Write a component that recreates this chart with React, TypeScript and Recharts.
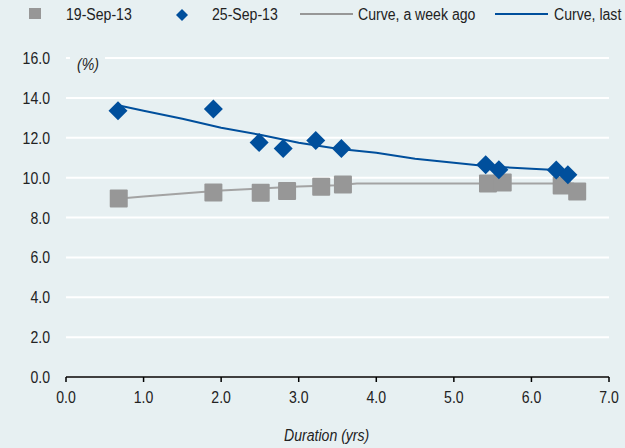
import React from "react";
import {ComposedChart, Scatter, Line, XAxis, YAxis, CartesianGrid} from "recharts";

const squareX = [0.68, 1.9, 2.51, 2.85, 3.29, 3.57, 5.44, 5.63, 6.39, 6.59];
const squareY = [8.95, 9.25, 9.24, 9.33, 9.54, 9.65, 9.7, 9.75, 9.6, 9.3];

const diamondX = [0.67, 1.9, 2.49, 2.8, 3.22, 3.55, 5.41, 5.58, 6.32, 6.47];
const diamondY = [13.36, 13.44, 11.76, 11.46, 11.86, 11.46, 10.65, 10.4, 10.38, 10.15];

const curveX = [0.7, 1.0, 1.5, 2.0, 2.5, 3.0, 3.5, 3.75, 4.0, 4.5, 5.0, 5.5, 6.0, 6.25, 6.55];
const weekAgoY = [8.95, 9.05, 9.2, 9.35, 9.45, 9.55, 9.62, 9.7, 9.7, 9.7, 9.7, 9.7, 9.7, 9.7, 9.7];
const lastWeekY = [13.6, 13.35, 12.95, 12.5, 12.15, 11.75, 11.45, 11.35, 11.25, 10.95, 10.75, 10.55, 10.45, 10.4, 10.15];

const xTicks = [0, 1, 2, 3, 4, 5, 6, 7];
const yTicks = [0, 2, 4, 6, 8, 10, 12, 14, 16];

const BG = "#e7f0f2";
const BLUE = "#004f9c";
const GREY = "#979797";
const INK = "#222";
const FONT = "'Liberation Sans', Arial, sans-serif";
const NARROW = 0.88;

const squares = squareX.map((x, i) => ({x, y: squareY[i]}));
const diamonds = diamondX.map((x, i) => ({x, y: diamondY[i]}));
const weekAgo = curveX.map((x, i) => ({x, y: weekAgoY[i]}));
const lastWeek = curveX.map((x, i) => ({x, y: lastWeekY[i]}));

const SquareShape = (props: any) => {
	const {cx, cy} = props;
	return <rect x={cx - 9} y={cy - 9} width={18} height={18} rx={1} fill={GREY}/>;
};

const DiamondShape = (props: any) => {
	const {cx, cy} = props;
	const r = 9.5;
	return <polygon points={`${cx},${cy - r} ${cx + r},${cy} ${cx},${cy + r} ${cx - r},${cy}`} fill={BLUE}/>;
};

// condensed look: Liberation Sans squeezed horizontally
const XTick = (props: any) => {
	const {x, y, payload} = props;
	return <text transform={`translate(${x},${y}) scale(${NARROW},1)`} x={0} y={0} dy={21} textAnchor="middle"
				 fill={INK} fontSize={16} fontFamily={FONT}>{payload.value.toFixed(1)}</text>;
};

const YTick = (props: any) => {
	const {x, y, payload} = props;
	return <text transform={`translate(${x},${y}) scale(${NARROW},1)`} x={0} y={0} dy={6} textAnchor="end"
				 fill={INK} fontSize={16} fontFamily={FONT}>{payload.value.toFixed(1)}</text>;
};

const narrowText = (left: number, top: number, label: string, italic = false) =>
	<div style={{
		position: "absolute", left, top, fontFamily: FONT, fontSize: 16, color: INK, whiteSpace: "nowrap",
		fontStyle: italic ? "italic" : "normal", transform: `scaleX(${NARROW})`, transformOrigin: "left top"
	}}>{label}</div>;

export default function App() {
	return <div style={{position: "fixed", left: 0, top: 0, width: 625, height: 448, background: BG, overflow: "hidden"}}>
		<ComposedChart width={625} height={448} margin={{top: 58, right: 16, left: 0, bottom: 41}}>
			<CartesianGrid horizontal={true} vertical={false} stroke="#ffffff" strokeWidth={2}/>
			<XAxis type="number" dataKey="x" domain={[0, 7]} ticks={xTicks} height={30}
				   stroke="#000" strokeWidth={1.5} tickSize={5} tickMargin={0} tick={<XTick/>}/>
			<YAxis type="number" dataKey="y" domain={[0, 16]} ticks={yTicks}
				   width={66} axisLine={false} tickLine={false} tickSize={0} tickMargin={16} tick={<YTick/>}/>
			<Line data={weekAgo} dataKey="y" type="linear" stroke="#a3a3a3" strokeWidth={2} dot={false} isAnimationActive={false}/>
			<Line data={lastWeek} dataKey="y" type="linear" stroke={BLUE} strokeWidth={2} dot={false} isAnimationActive={false}/>
			<Scatter data={squares} dataKey="y" shape={SquareShape} isAnimationActive={false}/>
			<Scatter data={diamonds} dataKey="y" shape={DiamondShape} isAnimationActive={false}/>
		</ComposedChart>

		{/* legend */}
		<div style={{position: "absolute", left: 29, top: 8, width: 12, height: 11, background: GREY}}/>
		{narrowText(66, 6, "19-Sep-13")}
		<svg style={{position: "absolute", left: 176, top: 9}} width={12} height={12}>
			<polygon points="6,0 12,6 6,12 0,6" fill={BLUE}/>
		</svg>
		{narrowText(212, 6, "25-Sep-13")}
		<div style={{position: "absolute", left: 300, top: 13, width: 53, height: 2, background: GREY}}/>
		{narrowText(358, 6, "Curve, a week ago")}
		<div style={{position: "absolute", left: 495, top: 13, width: 53, height: 2, background: BLUE}}/>
		{narrowText(554, 6, "Curve, last")}

		<div style={{position: "absolute", left: 70, top: 55, width: 35, height: 20, background: BG}}/>
		{narrowText(77, 56, "(%)", true)}
		{narrowText(284, 427, "Duration (yrs)", true)}
	</div>;
}
